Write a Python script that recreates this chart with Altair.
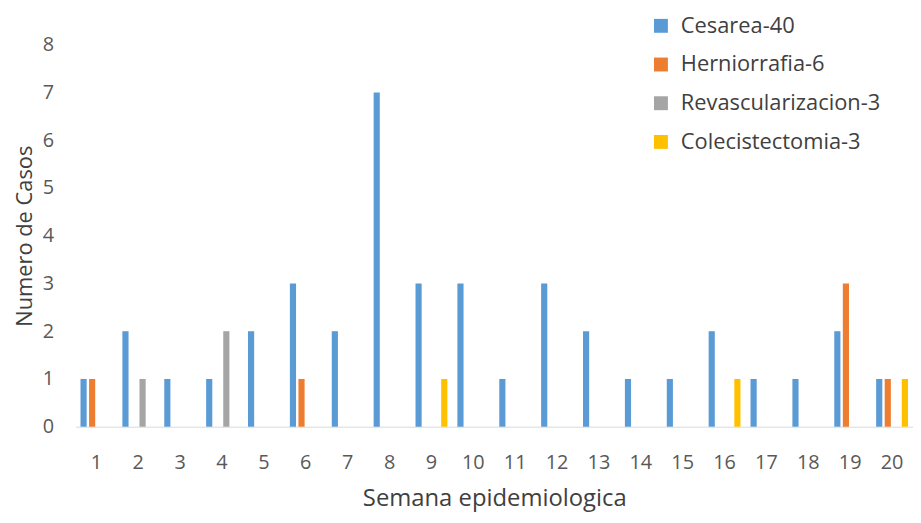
import altair as alt
import pandas as pd

weeks = list(range(1, 21))
series = ["Cesarea-40", "Herniorrafia-6", "Revascularizacion-3", "Colecistectomia-3"]
colors = ["#5B9BD5", "#ED7D31", "#A5A5A5", "#FFC000"]

cesarea = [1, 2, 1, 1, 2, 3, 2, 7, 3, 3, 1, 3, 2, 1, 1, 2, 1, 1, 2, 1]
herniorrafia = [1, 0, 0, 0, 0, 1, 0, 0, 0, 0, 0, 0, 0, 0, 0, 0, 0, 0, 3, 1]
revascularizacion = [0, 1, 0, 2, 0, 0, 0, 0, 0, 0, 0, 0, 0, 0, 0, 0, 0, 0, 0, 0]
colecistectomia = [0, 0, 0, 0, 0, 0, 0, 0, 1, 0, 0, 0, 0, 0, 0, 1, 0, 0, 0, 1]

rows = []
for name, vals in zip(series, [cesarea, herniorrafia, revascularizacion, colecistectomia]):
    for w, v in zip(weeks, vals):
        rows.append({"Semana": w, "Serie": name, "Casos": v})
df = pd.DataFrame(rows)

FONT = "Open Sans"

chart = (
    alt.Chart(df)
    .transform_filter(alt.datum.Casos > 0)
    .mark_bar()
    .encode(
        x=alt.X(
            "Semana:O",
            scale=alt.Scale(domain=weeks, paddingInner=0.24, paddingOuter=0.12),
            axis=alt.Axis(
                title="Semana epidemiologica",
                labelAngle=0,
                labelFontSize=20,
                labelColor="#595959",
                labelFont=FONT,
                labelPadding=26,
                ticks=False,
                domainColor="#D9D9D9",
                domainWidth=1,
                titleFontSize=24,
                titleFont=FONT,
                titleColor="#404040",
                titleFontWeight="normal",
                titlePadding=14,
            ),
        ),
        xOffset=alt.XOffset(
            "Serie:N",
            sort=series,
            scale=alt.Scale(domain=series, paddingInner=0.28),
        ),
        y=alt.Y(
            "Casos:Q",
            scale=alt.Scale(domain=[0, 8]),
            axis=alt.Axis(
                title="Numero de Casos",
                values=[0, 1, 2, 3, 4, 5, 6, 7, 8],
                grid=False,
                domain=False,
                ticks=False,
                labelFontSize=20,
                labelColor="#595959",
                labelFont=FONT,
                labelPadding=22,
                titleFontSize=22,
                titleFont=FONT,
                titleColor="#404040",
                titleFontWeight="normal",
                titlePadding=6,
            ),
        ),
        color=alt.Color(
            "Serie:N",
            sort=series,
            scale=alt.Scale(domain=series, range=colors),
            legend=alt.Legend(
                title=None,
                orient="none",
                legendX=579,
                legendY=-30,
                symbolType="square",
                symbolSize=196,
                symbolStrokeWidth=0,
                labelFontSize=22,
                labelFont=FONT,
                labelColor="#404040",
                labelOffset=9,
                labelLimit=400,
                rowPadding=17,
            ),
        ),
    )
    .properties(
        width=844,
        height=385,
        autosize=alt.AutoSizeParams(type="none"),
        padding={"left": 68, "top": 35, "right": 0, "bottom": 87},
    )
    .configure_view(stroke=None)
)

chart.save("out.html", embed_options={"renderer": "svg", "actions": False})
